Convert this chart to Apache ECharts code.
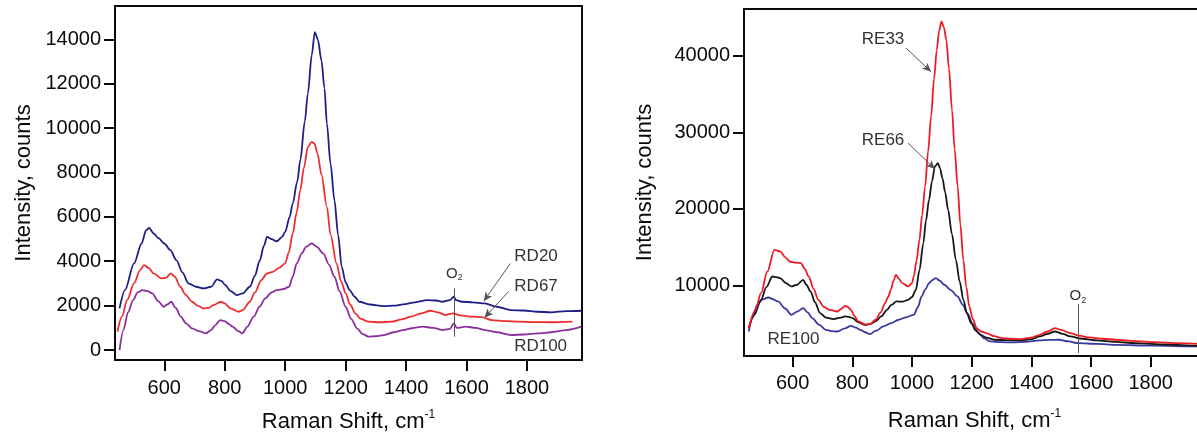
<!DOCTYPE html>
<html>
<head>
<meta charset="utf-8">
<script src="https://cdn.jsdelivr.net/npm/echarts@6/dist/echarts.min.js"></script>
<style>
  html, body { margin: 0; padding: 0; background: #fff; }
  #main { width: 1197px; height: 433px; }
</style>
</head>
<body>
<div id="main"></div>
<script>
// tick labels
var shiftTicks = [600, 800, 1000, 1200, 1400, 1600, 1800];
var rdTicks = [0, 2000, 4000, 6000, 8000, 10000, 12000, 14000];
var reTicks = [10000, 20000, 30000, 40000];

// left panel: [Raman shift, counts]
var rd20 = [[452,1875],[470,2700],[500,3900],[525,4800],[540,5400],[550,5500],[565,5250],[580,5050],[600,4800],[620,4500],[640,4050],[660,3500],[680,3000],[705,2850],[730,2775],[755,2850],[775,3180],[790,3100],[800,2950],[820,2650],[840,2475],[860,2550],[883,2850],[900,3350],[915,4000],[930,4700],[940,5100],[955,5000],[972,4900],[990,5100],[1000,5325],[1015,6000],[1025,6600],[1040,7600],[1050,8550],[1065,10300],[1075,11550],[1088,13300],[1098,14325],[1108,14000],[1120,13050],[1130,11800],[1138,10200],[1150,8400],[1163,6750],[1175,5200],[1187,3750],[1200,3050],[1213,2700],[1230,2400],[1245,2175],[1280,2050],[1327,1980],[1360,2000],[1390,2055],[1430,2150],[1470,2250],[1500,2230],[1520,2175],[1545,2250],[1558,2400],[1565,2250],[1585,2175],[1620,2150],[1660,2100],[1700,1950],[1747,1800],[1790,1780],[1835,1725],[1880,1700],[1930,1750],[1980,1770]];
var rd67 = [[445,825],[460,1500],[477,2250],[500,3000],[520,3600],[533,3825],[548,3700],[565,3450],[590,3225],[605,3250],[622,3450],[635,3300],[653,2850],[670,2500],[692,2175],[710,2000],[730,1875],[748,1900],[762,2025],[787,2175],[800,2100],[819,1875],[845,1725],[860,1800],[883,2175],[900,2600],[921,3150],[940,3450],[959,3525],[980,3700],[1000,3900],[1012,4400],[1025,5250],[1038,6200],[1050,7200],[1062,8200],[1075,9150],[1088,9375],[1097,9300],[1107,8850],[1120,7900],[1138,6450],[1150,5200],[1170,3900],[1185,3100],[1200,2550],[1215,2050],[1232,1650],[1250,1400],[1276,1275],[1310,1250],[1352,1275],[1385,1380],[1416,1500],[1450,1650],[1480,1770],[1505,1700],[1530,1575],[1555,1650],[1580,1560],[1620,1500],[1650,1480],[1684,1350],[1730,1300],[1772,1275],[1820,1260],[1880,1250],[1950,1275]];
var rd100 = [[452,0],[465,900],[480,1700],[497,2250],[512,2600],[528,2700],[545,2650],[560,2550],[580,2200],[598,1950],[610,2050],[623,2175],[638,1900],[655,1500],[672,1200],[692,975],[715,850],[737,750],[755,900],[769,1125],[785,1350],[800,1300],[813,1180],[826,1050],[845,850],[858,750],[875,1050],[896,1500],[915,1950],[934,2325],[955,2600],[972,2700],[995,2750],[1013,2850],[1025,3300],[1038,3900],[1055,4350],[1069,4650],[1088,4800],[1105,4650],[1126,4350],[1145,3850],[1163,3300],[1180,2650],[1200,1950],[1218,1400],[1238,975],[1256,720],[1276,600],[1300,620],[1327,675],[1360,800],[1390,900],[1420,980],[1454,1050],[1490,1000],[1520,900],[1545,950],[1558,1200],[1568,1000],[1597,1050],[1630,1000],[1660,900],[1700,800],[1747,675],[1790,700],[1835,750],[1880,800],[1930,900],[1980,1050]];

// right panel
var re33 = [[453,4440],[475,6800],[494,9000],[515,11800],[539,14660],[558,14450],[575,13700],[590,13140],[610,13000],[628,12920],[640,12200],[654,11180],[670,9600],[686,8140],[705,7200],[724,6830],[750,6610],[765,7000],[775,7350],[785,7200],[795,6830],[808,6000],[820,5310],[846,4870],[860,5000],[878,5530],[895,6500],[910,7700],[920,8500],[929,9440],[938,10600],[946,11400],[956,10900],[967,10310],[987,9880],[1000,10300],[1006,11180],[1015,13200],[1025,15970],[1034,19200],[1044,22930],[1054,27500],[1064,32070],[1074,37000],[1083,40770],[1091,43300],[1099,44470],[1107,43700],[1115,42080],[1124,38300],[1134,32940],[1143,27800],[1153,22930],[1162,18000],[1172,13360],[1182,9800],[1192,7270],[1204,5600],[1217,4440],[1232,4000],[1249,3790],[1275,3400],[1300,3130],[1330,3050],[1364,3000],[1400,3200],[1428,3570],[1455,4000],[1479,4440],[1500,4200],[1530,3790],[1560,3450],[1594,3220],[1640,3050],[1683,2920],[1750,2750],[1813,2610],[1890,2480],[1960,2390],[1990,2350]];
var re66 = [[453,4440],[472,6200],[494,8140],[512,9800],[532,11180],[545,11100],[558,10970],[578,10300],[596,9880],[615,10100],[635,10750],[646,10100],[660,9230],[675,7800],[692,6400],[712,5800],[737,5610],[760,5800],[775,5960],[788,5900],[801,5740],[820,5200],[840,4870],[860,5000],[878,5310],[898,6000],[916,6830],[932,7500],[948,7920],[968,7900],[987,8140],[1000,8500],[1013,9440],[1025,12000],[1038,15540],[1047,18500],[1057,21190],[1067,23600],[1077,25540],[1087,25980],[1094,25300],[1102,24020],[1111,22200],[1121,19890],[1134,16700],[1147,13360],[1160,10500],[1172,8140],[1185,6300],[1198,5090],[1214,4100],[1230,3570],[1250,3200],[1275,2920],[1320,2860],[1364,2830],[1400,3000],[1428,3350],[1455,3700],[1479,4000],[1505,3700],[1530,3350],[1570,3050],[1620,2830],[1680,2650],[1748,2480],[1850,2300],[1960,2130],[1990,2100]];
var re100 = [[453,4000],[466,5800],[481,7480],[500,8200],[519,8440],[535,8200],[551,7920],[575,7000],[596,6180],[615,6600],[635,7050],[650,6500],[666,5740],[688,4900],[711,4220],[730,4050],[750,4000],[775,4400],[795,4740],[812,4500],[827,4220],[843,3900],[859,3660],[880,4100],[904,4660],[930,5100],[955,5530],[980,5850],[1006,6180],[1020,7200],[1032,8570],[1045,9500],[1057,10310],[1068,10700],[1080,10970],[1094,10600],[1108,10100],[1130,9400],[1153,8570],[1170,7500],[1185,6400],[1204,5000],[1223,3790],[1242,3100],[1262,2700],[1300,2600],[1339,2570],[1380,2650],[1428,2830],[1460,2900],[1492,2920],[1525,2700],[1556,2480],[1620,2380],[1683,2260],[1800,2150],[1960,2050],[1990,2030]];

var axisFont = 'Liberation Sans, Arial, sans-serif';
var ink = '#0a0a0a';

function plain(v) { return String(v); }

function shiftAxis(gridIndex, margin, gap) {
  return {
    type: 'value', gridIndex: gridIndex, min: 437, max: 1982,
    name: '{a|Raman Shift, cm}{b|-1}', nameLocation: 'middle', nameGap: gap,
    nameTextStyle: { rich: {
      a: { fontFamily: axisFont, fontSize: 22, color: ink },
      b: { fontFamily: axisFont, fontSize: 12, color: ink, padding: [0, 0, 13, 0] }
    } },
    axisLine: { show: true, onZero: false, lineStyle: { color: ink, width: 2 } },
    axisTick: { show: true, inside: false, length: 11, customValues: shiftTicks, lineStyle: { color: ink, width: 2 } },
    axisLabel: { customValues: shiftTicks, formatter: plain, margin: margin, fontFamily: axisFont, fontSize: 20, color: ink },
    splitLine: { show: false }
  };
}

function countAxis(gridIndex, mn, mx, ticks, gap) {
  return {
    type: 'value', gridIndex: gridIndex, min: mn, max: mx,
    name: 'Intensity, counts', nameLocation: 'middle', nameGap: gap, nameRotate: 90,
    nameTextStyle: { fontFamily: axisFont, fontSize: 22, color: ink },
    axisLine: { show: true, onZero: false, lineStyle: { color: ink, width: 2 } },
    axisTick: { show: true, inside: false, length: 11, customValues: ticks, lineStyle: { color: ink, width: 2 } },
    axisLabel: { customValues: ticks, formatter: plain, margin: 14, fontFamily: axisFont, fontSize: 20, color: ink },
    splitLine: { show: false }
  };
}

function spectrum(name, data, color, xi, extra) {
  var s = {
    name: name, type: 'line', xAxisIndex: xi, yAxisIndex: xi, data: data,
    showSymbol: false, smooth: 0.3, smoothMonotone: 'x', silent: true,
    lineStyle: { color: color, width: 1.8 }, itemStyle: { color: color }
  };
  if (extra) { for (var k in extra) s[k] = extra[k]; }
  return s;
}

function arrow(from, to) {
  return [{ coord: from }, { coord: to }];
}
function note(text, at, size) {
  return { coord: at, symbolSize: 0, label: { show: true, position: 'inside', formatter: text,
    fontFamily: axisFont, fontSize: size || 17, color: '#333',
    rich: { o: { fontFamily: axisFont, fontSize: 15, color: '#333' }, s: { fontFamily: axisFont, fontSize: 9, color: '#333', padding: [9, 0, 0, 0] } } } };
}
var arrowLine = { silent: true, symbol: ['none', 'arrow'], symbolSize: [6, 9], label: { show: false },
  lineStyle: { color: '#555', width: 1, type: 'solid' }, emphasis: { disabled: true }, animation: false };
var plainLine = { silent: true, symbol: ['none', 'none'], label: { show: false },
  lineStyle: { color: '#555', width: 1, type: 'solid' }, emphasis: { disabled: true }, animation: false };

var myChart = echarts.init(document.getElementById('main'));
var option = {
  animation: false,
  grid: [
    { left: 115, top: 6, right: 615, bottom: 73, show: true, borderColor: ink, borderWidth: 2, containLabel: false, outerBoundsMode: 'none' },
    { left: 744, top: 9, right: -8, bottom: 77, show: true, borderColor: ink, borderWidth: 2, containLabel: false, outerBoundsMode: 'none' }
  ],
  xAxis: [shiftAxis(0, 18, 49), shiftAxis(1, 17, 52)],
  yAxis: [countAxis(0, -450, 15500, rdTicks, 80), countAxis(1, 800, 46100, reTicks, 88)],
  series: [
    spectrum('RD20', rd20, '#1e1e86', 0, {
      markLine: Object.assign({ data: [arrow([1745, 3900], [1657, 2200]), arrow([1740, 2650], [1659, 1450])] }, arrowLine),
      markPoint: { silent: true, data: [note('RD20', [1830, 4200]), note('RD67', [1830, 2880]), note('RD100', [1845, 150]), note('{o|O}{s|2}', [1560, 3450])] }
    }),
    spectrum('RD67', rd67, '#ee2e2e', 0),
    spectrum('RD100', rd100, '#8a2f9c', 0, {
      markLine: Object.assign({ data: [arrow([1560, 2775], [1560, 600])] }, plainLine)
    }),
    spectrum('RE100', re100, '#3a3a9e', 1, {
      markLine: Object.assign({ data: [arrow([1556, 7600], [1556, 1200])] }, plainLine),
      markPoint: { silent: true, data: [note('RE100', [603, 2920]), note('{o|O}{s|2}', [1556, 8600])] }
    }),
    spectrum('RE66', re66, '#161616', 1),
    spectrum('RE33', re33, '#ec1c24', 1, {
      markLine: Object.assign({ data: [arrow([980, 41000], [1064, 37900]), arrow([987, 28600], [1077, 25200])] }, arrowLine),
      markPoint: { silent: true, data: [note('RE33', [903, 42080]), note('RE66', [903, 28940])] }
    })
  ]
};

option && myChart.setOption(option);
</script>
</body>
</html>
